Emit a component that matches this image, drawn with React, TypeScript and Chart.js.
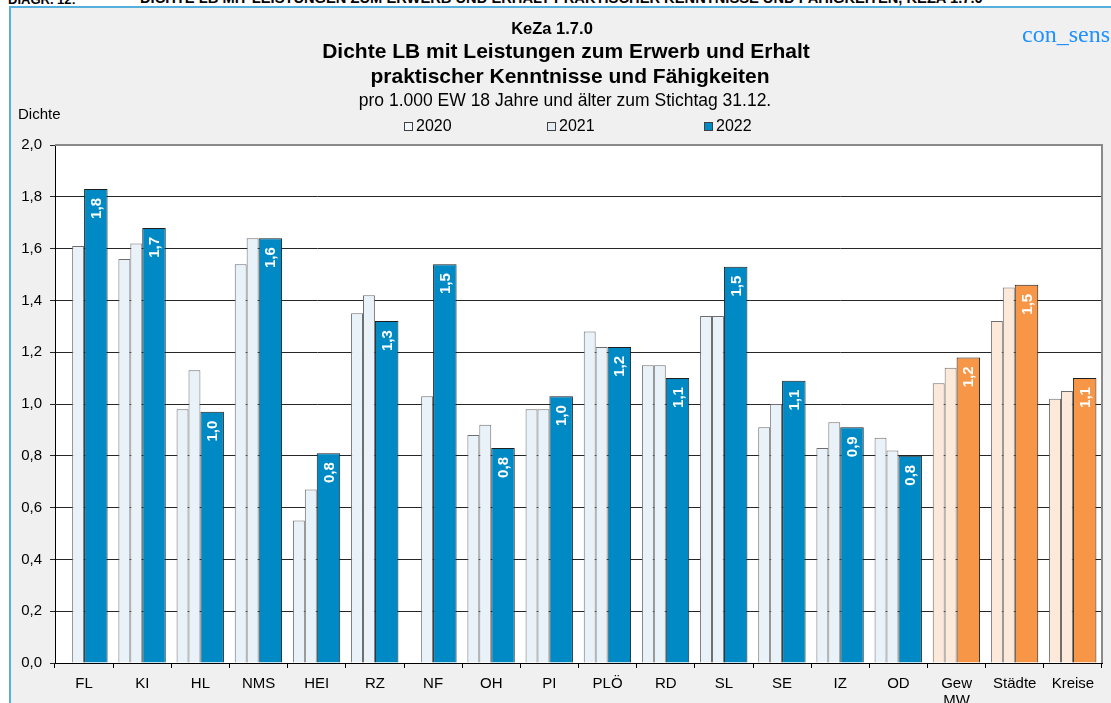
import React, { useEffect, useRef } from 'react';
import { Chart, registerables } from 'chart.js';

Chart.register(...registerables);

const categories = ['FL', 'KI', 'HL', 'NMS', 'HEI', 'RZ', 'NF', 'OH', 'PI', 'PLÖ', 'RD', 'SL', 'SE', 'IZ', 'OD', 'Gew MW', 'Städte', 'Kreise'];
const aggregateCategories = ['Gew MW', 'Städte', 'Kreise'];
const seriesLabels = ['2020', '2021', '2022'];
const values2020 = [null, 1.56, 0.98, 1.54, 0.55, 1.35, null, 0.88, 0.98, 1.28, 1.15, 1.34, 0.91, 0.83, 0.87, 1.08, 1.32, 1.02];
const values2021 = [1.61, 1.62, 1.13, 1.64, 0.67, 1.42, 1.03, 0.92, 0.98, 1.22, 1.15, 1.34, 1.0, 0.93, 0.82, 1.14, 1.45, 1.05];
const values2022 = [1.83, 1.68, 0.97, 1.64, 0.81, 1.32, 1.54, 0.83, 1.03, 1.22, 1.1, 1.53, 1.09, 0.91, 0.8, 1.18, 1.46, 1.1];
const yMin = 0;
const yMax = 2;
const yStep = 0.2;

const FONT = '"Liberation Sans", Arial, Helvetica, sans-serif';
const isAgg = categories.map((c) => aggregateCategories.includes(c));
const lightColors = isAgg.map((a) => (a ? '#FDE9D9' : '#EAF2F9'));
const darkColors = isAgg.map((a) => (a ? '#F79646' : '#008AC5'));
const legendColors = ['#F1F7FC', '#E4EDF4', '#008AC5'];

const fmt = (v: number) => v.toFixed(1).replace('.', ',');

const plotAreaPlugin = {
  id: 'plotArea',
  beforeDraw(chart: any) {
    const { ctx, chartArea: a } = chart;
    ctx.save();
    ctx.fillStyle = '#ffffff';
    ctx.fillRect(a.left, a.top, a.right - a.left, a.bottom - a.top);
    ctx.restore();
  },
  afterDraw(chart: any) {
    const { ctx, chartArea: a } = chart;
    ctx.save();
    ctx.strokeStyle = '#8a8a8a';
    ctx.lineWidth = 2;
    ctx.beginPath();
    ctx.moveTo(a.left, a.top);
    ctx.lineTo(a.right, a.top);
    ctx.lineTo(a.right, a.bottom);
    ctx.stroke();
    ctx.restore();
  },
};

const barLabelPlugin = {
  id: 'barLabels',
  afterDatasetsDraw(chart: any) {
    const ctx = chart.ctx;
    const meta = chart.getDatasetMeta(2);
    ctx.save();
    ctx.fillStyle = '#ffffff';
    ctx.font = `bold 15px ${FONT}`;
    ctx.textAlign = 'right';
    ctx.textBaseline = 'middle';
    meta.data.forEach((bar: any, i: number) => {
      const v = values2022[i];
      if (v == null) return;
      ctx.save();
      ctx.translate(bar.x + 1, bar.y + 9);
      ctx.rotate(-Math.PI / 2);
      ctx.fillText(fmt(v), 0, 0);
      ctx.restore();
    });
    ctx.restore();
  },
};

export default function App() {
  const ref = useRef<HTMLCanvasElement>(null);

  useEffect(() => {
    if (!ref.current) return;
    const chart = new Chart(ref.current, {
      type: 'bar',
      data: {
        labels: categories,
        datasets: [
          {
            label: seriesLabels[0],
            data: values2020,
            backgroundColor: lightColors,
            borderColor: '#6e6e6e',
            borderWidth: 1,
            categoryPercentage: 0.82,
            barPercentage: 1,
          },
          {
            label: seriesLabels[1],
            data: values2021,
            backgroundColor: lightColors,
            borderColor: '#6e6e6e',
            borderWidth: 1,
            categoryPercentage: 0.82,
            barPercentage: 1,
          },
          {
            label: seriesLabels[2],
            data: values2022,
            backgroundColor: darkColors,
            borderColor: '#1e1e1e',
            borderWidth: 1,
            categoryPercentage: 1.616,
            barPercentage: 1,
          },
          {
            label: '',
            data: [],
            backgroundColor: 'rgba(0,0,0,0)',
          },
        ] as any,
      },
      options: {
        responsive: false,
        animation: false,
        layout: { padding: { top: 145, right: 9, bottom: 0, left: 0 } },
        plugins: {
          legend: { display: false },
          title: { display: false },
          tooltip: { enabled: false },
        },
        scales: {
          x: {
            ticks: {
              font: { size: 15, family: FONT, lineHeight: 1.1 },
              color: '#000',
              padding: 8,
              maxRotation: 0,
              autoSkip: false,
              callback: (_v: any, i: number) => {
                const l = categories[i];
                return l.includes(' ') ? l.split(' ') : l;
              },
            },
            grid: { drawOnChartArea: false, tickLength: 5, color: '#000', offset: true },
            border: { color: '#000', width: 1 },
            afterFit: (s: any) => {
              s.height = 40;
            },
          },
          y: {
            min: yMin,
            max: yMax,
            ticks: {
              stepSize: yStep,
              font: { size: 15, family: FONT },
              color: '#000',
              padding: 8,
              callback: (v: any) => fmt(Number(v)),
            },
            grid: { color: '#262626', tickLength: 5, lineWidth: 1 },
            border: { color: '#000', width: 1 },
            afterFit: (s: any) => {
              s.width = 55;
            },
          },
        },
      } as any,
      plugins: [plotAreaPlugin, barLabelPlugin],
    });
    return () => chart.destroy();
  }, []);

  const abs: React.CSSProperties = { position: 'absolute' };
  const titleLine = (center: number, top: number, size: number, bold: boolean, text: string) => (
    <div
      style={{
        ...abs,
        left: center - 400,
        width: 800,
        top,
        textAlign: 'center',
        fontFamily: FONT,
        fontSize: size,
        fontWeight: bold ? 'bold' : 'normal',
        lineHeight: 1,
        color: '#000',
        whiteSpace: 'nowrap',
      }}
    >
      {text}
    </div>
  );

  const legendX = [404, 547, 704];

  return (
    <div style={{ position: 'absolute', left: 0, top: 0, width: 1111, height: 703, overflow: 'hidden', background: '#fff' }}>
      <div
        style={{
          ...abs,
          left: 8,
          top: -7,
          fontFamily: FONT,
          fontSize: 13,
          lineHeight: '13px',
          whiteSpace: 'nowrap',
          color: '#000',
        }}
      >
        <span style={{ fontWeight: 'bold' }}>DIAGR. 12:</span>
        <span style={{ position: 'absolute', left: 132, top: -1, fontWeight: 'bold', fontSize: 14.7 }}>
          DICHTE LB MIT LEISTUNGEN ZUM ERWERB UND ERHALT PRAKTISCHER KENNTNISSE UND FÄHIGKEITEN, KEZA 1.7.0
        </span>
      </div>
      <div
        style={{
          ...abs,
          left: 9,
          top: 6,
          width: 1120,
          height: 720,
          background: '#F0F0F0',
          border: '2px solid #55B0DE',
          boxSizing: 'border-box',
        }}
      />
      <canvas ref={ref} width={1111} height={703} style={{ ...abs, left: 0, top: 0, width: 1111, height: 703 }} />
      {titleLine(552, 20, 16.5, true, 'KeZa 1.7.0')}
      {titleLine(566, 40, 21, true, 'Dichte LB mit Leistungen zum Erwerb und Erhalt')}
      {titleLine(570, 65, 21, true, 'praktischer Kenntnisse und Fähigkeiten')}
      {titleLine(565, 92, 17.5, false, 'pro 1.000 EW 18 Jahre und älter zum Stichtag 31.12.')}
      {seriesLabels.map((s, i) => (
        <div
          key={s}
          style={{ ...abs, left: legendX[i], top: 118, display: 'flex', alignItems: 'center', fontFamily: FONT, fontSize: 16, lineHeight: 1 }}
        >
          <span
            style={{
              display: 'inline-block',
              width: 9,
              height: 9,
              boxSizing: 'border-box',
              border: '1px solid #404040',
              background: legendColors[i],
              marginRight: 3,
            }}
          />
          <span>{s}</span>
        </div>
      ))}
      <div style={{ ...abs, left: 18, top: 105.5, fontFamily: FONT, fontSize: 15, lineHeight: 1 }}>Dichte</div>
      <div
        style={{
          ...abs,
          left: 1022,
          top: 21.5,
          fontFamily: '"Liberation Serif", "Times New Roman", serif',
          fontSize: 24,
          lineHeight: 1,
          color: '#1E90FF',
          whiteSpace: 'nowrap',
        }}
      >
        con_sens
      </div>
    </div>
  );
}
